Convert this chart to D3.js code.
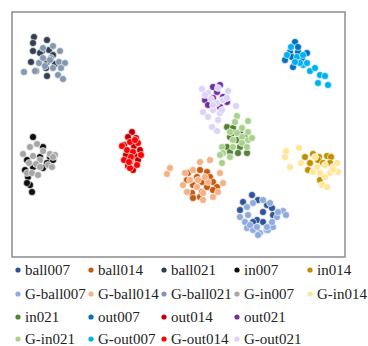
<!DOCTYPE html>
<html>
<head>
<meta charset="utf-8">
<script src="https://cdn.jsdelivr.net/npm/d3@7"></script>
<style>
  body { margin: 0; background: #fff; }
  svg { display: block; }
</style>
</head>
<body>
<svg width="368" height="346"></svg>
<script>
// series names, in legend order
let names = ["ball007", "ball014", "ball021", "in007", "in014",
             "G-ball007", "G-ball014", "G-ball021", "G-in007", "G-in014",
             "in021", "out007", "out014", "out021",
             "G-in021", "G-out007", "G-out014", "G-out021"];

let colors = ["#2f5597", "#c55a11", "#333f50", "#0d0d0d", "#bf9000",
              "#8faadc", "#f4b183", "#8497b0", "#a6a6a6", "#ffe699",
              "#548235", "#0070c0", "#c00000", "#7030a0",
              "#a9d18e", "#00b0f0", "#ff0000", "#dcd3f7"];

// embedding coordinates
let ball007 = [[252,195],[243,202],[258,200],[267,205],[240,210],[263,212],[272,208],[257,220],[263,222],[253,222],[273,215],[267,230]];
let gBall007 = [[247,207],[253,203],[263,200],[270,203],[240,217],[248,215],[245,222],[277,217],[283,211],[286,215],[278,212],[247,228],[253,230],[260,233],[258,235],[268,230],[273,227],[250,225],[267,227],[257,227],[272,222]];
let ball014 = [[200,170],[207,172],[188,173],[197,177],[210,177],[187,180],[202,182],[213,182],[193,185],[207,187],[217,187],[192,193],[202,192],[213,190],[200,197],[193,198]];
let gBall014 = [[170,168],[167,174],[200,162],[210,160],[185,173],[193,170],[220,173],[183,185],[198,180],[208,182],[205,177],[190,180],[197,187],[203,193],[223,183],[187,192],[213,197],[203,200],[218,192]];
let ball021 = [[34,37],[33,43],[47,40],[33,51],[42,51],[49,50],[31,62],[47,62],[36,71],[46,68],[55,64],[47,76],[40,53],[53,55]];
let gBall021 = [[24,72],[43,48],[53,46],[60,51],[51,58],[39,63],[45,66],[59,62],[65,63],[53,68],[61,68],[58,75],[63,79],[35,71],[50,60],[43,58]];
let in007 = [[33,137],[43,147],[50,157],[27,160],[47,163],[25,170],[33,167],[28,177],[30,185],[27,183],[32,192],[40,157],[53,160],[43,168]];
let gIn007 = [[23,154],[30,147],[37,144],[43,151],[50,154],[55,155],[33,156],[40,160],[36,164],[48,165],[52,167],[27,173],[32,173],[38,175],[40,167],[29,163],[53,157]];
let in014 = [[305,157],[313,154],[319,157],[327,156],[331,157],[310,163],[318,160],[323,163],[308,170],[320,180],[330,163]];
let gIn014 = [[286,151],[285,157],[290,167],[299,148],[301,163],[317,167],[325,165],[333,167],[337,163],[338,172],[330,173],[320,173],[313,172],[325,177],[322,185],[327,187],[333,170],[315,157]];
let in021 = [[227,127],[233,128],[240,132],[230,137],[237,140],[245,137],[227,147],[240,147],[230,152],[247,153],[238,153],[233,133]];
let gIn021 = [[237,116],[248,121],[235,122],[242,128],[248,132],[230,132],[233,140],[242,137],[248,140],[252,138],[222,147],[223,153],[220,155],[233,147],[242,143],[222,163],[247,147],[230,157],[237,133]];
let out007 = [[295,42],[290,52],[298,52],[285,60],[293,67],[302,58],[307,53],[298,47],[292,57]];
let gOut007 = [[291,47],[287,55],[297,57],[303,65],[310,71],[315,68],[320,75],[325,76],[328,85],[318,83],[300,63],[307,63],[295,62],[303,55]];
let out014 = [[132,132],[128,137],[136,138],[124,145],[134,146],[140,150],[126,155],[135,156],[130,162],[138,160],[128,166],[133,170]];
let gOut014 = [[122,146],[130,142],[138,143],[127,150],[133,152],[141,155],[124,160],[131,157],[137,165],[130,168],[135,140],[129,162]];
let out021 = [[213,87],[220,85],[217,92],[205,100],[213,98],[227,102],[220,107],[208,105],[223,97]];
let gOut021 = [[202,89],[208,93],[218,88],[228,91],[205,95],[211,99],[217,103],[223,100],[227,98],[203,112],[213,110],[220,113],[208,117],[218,120],[212,127],[217,131],[236,106],[213,105],[222,110]];

let seriesData = {
    "ball007": ball007, "ball014": ball014, "ball021": ball021, "in007": in007, "in014": in014,
    "G-ball007": gBall007, "G-ball014": gBall014, "G-ball021": gBall021, "G-in007": gIn007, "G-in014": gIn014,
    "in021": in021, "out007": out007, "out014": out014, "out021": out021,
    "G-in021": gIn021, "G-out007": gOut007, "G-out014": gOut014, "G-out021": gOut021
};

// draw order: each real class followed by its generated twin
let drawOrder = ["ball021", "G-ball021", "in007", "G-in007", "out014", "G-out014",
                 "out021", "G-out021", "in021", "G-in021", "ball014", "G-ball014",
                 "ball007", "G-ball007", "out007", "G-out007", "in014", "G-in014"];

let svg = d3.select("svg");

let plot = {left: 12, top: 12, right: 345, bottom: 257};

let x = d3.scaleLinear().domain([12, 345]).range([plot.left, plot.right]);
let y = d3.scaleLinear().domain([12, 257]).range([plot.top, plot.bottom]);
let color = d3.scaleOrdinal().domain(names).range(colors);

// frame
svg.append("rect")
    .attr("x", plot.left)
    .attr("y", plot.top)
    .attr("width", plot.right - plot.left)
    .attr("height", plot.bottom - plot.top)
    .attr("fill", "none")
    .attr("stroke", "#8c8c8c")
    .attr("stroke-width", 1.5);

// points
drawOrder.forEach(function(name) {
    svg.append("g")
        .selectAll("circle")
        .data(seriesData[name])
        .enter().append("circle")
        .attr("cx", function(d) { return x(d[0]); })
        .attr("cy", function(d) { return y(d[1]); })
        .attr("r", 3.5)
        .style("fill", color(name))
        .style("stroke", "#fff")
        .style("stroke-width", 0.6);
});

// legend
let legendX = d3.scaleLinear().domain([0, 4]).range([18, 310]);
let rowY = [270, 294, 317, 339];
let rowOf = [0,0,0,0,0, 1,1,1,1,1, 2,2,2,2, 3,3,3,3];
let colOf = [0,1,2,3,4, 0,1,2,3,4, 0,1,2,3, 0,1,2,3];

let legend = svg.selectAll(".legend")
    .data(names)
    .enter().append("g")
    .attr("class", "legend")
    .attr("transform", function(d, i) {
        return "translate(" + legendX(colOf[i]) + "," + rowY[rowOf[i]] + ")";
    });

legend.append("circle")
    .attr("r", 2.6)
    .style("fill", function(d) { return color(d); });

legend.append("text")
    .attr("x", 7)
    .attr("dy", "0.35em")
    .style("font-family", "'Liberation Serif', 'Times New Roman', serif")
    .style("font-size", "15px")
    .style("fill", "#222")
    .text(function(d) { return d; });
</script>
</body>
</html>
